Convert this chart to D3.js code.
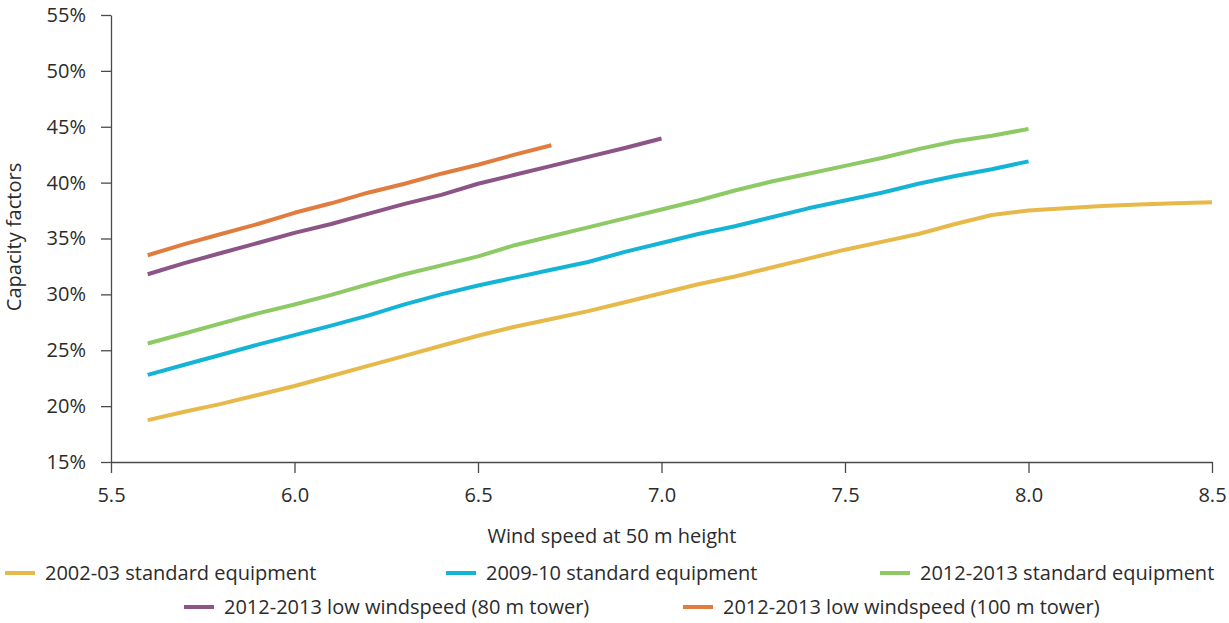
<!DOCTYPE html>
<html>
<head>
<meta charset="utf-8">
<script src="https://cdn.jsdelivr.net/npm/d3@7"></script>
<style>
  body { margin: 0; background: #fff; }
  text { font-family: "Open Sans", Lato, sans-serif; fill: #2b2b2b; }
</style>
</head>
<body>
<div id="chart-area"></div>
<script>
// Wind speed at 50 m height (x values shared by all series)
const windSpeeds = [5.6, 5.7, 5.8, 5.9, 6.0, 6.1, 6.2, 6.3, 6.4, 6.5,
    6.6, 6.7, 6.8, 6.9, 7.0, 7.1, 7.2, 7.3, 7.4, 7.5,
    7.6, 7.7, 7.8, 7.9, 8.0, 8.1, 8.2, 8.3, 8.4, 8.5];

// Capacity factors (%), one value per wind speed, series stop where the line stops
const std2002 = [18.75, 19.5, 20.2, 21.0, 21.8, 22.7, 23.6, 24.5, 25.4, 26.3,
    27.1, 27.8, 28.5, 29.3, 30.1, 30.9, 31.6, 32.4, 33.2, 34.0,
    34.7, 35.4, 36.3, 37.1, 37.5, 37.7, 37.9, 38.05, 38.15, 38.25];
const std2009 = [22.8, 23.7, 24.6, 25.5, 26.35, 27.2, 28.1, 29.1, 30.0, 30.8,
    31.5, 32.2, 32.9, 33.8, 34.6, 35.4, 36.1, 36.9, 37.7, 38.4,
    39.1, 39.9, 40.6, 41.2, 41.9];
const std2012 = [25.6, 26.5, 27.4, 28.3, 29.1, 29.95, 30.9, 31.8, 32.6, 33.4,
    34.4, 35.2, 36.0, 36.8, 37.6, 38.4, 39.3, 40.1, 40.8, 41.5,
    42.2, 43.0, 43.7, 44.2, 44.8];
const low80 = [31.8, 32.8, 33.7, 34.6, 35.5, 36.3, 37.2, 38.1, 38.9, 39.9,
    40.7, 41.5, 42.3, 43.1, 43.95];
const low100 = [33.5, 34.5, 35.4, 36.3, 37.3, 38.15, 39.1, 39.9, 40.8, 41.6,
    42.5, 43.35];

const seriesNames = ['2002-03 standard equipment', '2009-10 standard equipment',
    '2012-2013 standard equipment', '2012-2013 low windspeed (80 m tower)',
    '2012-2013 low windspeed (100 m tower)'];
const seriesValues = [std2002, std2009, std2012, low80, low100];
const seriesColors = ['#e6b94a', '#14b4d6', '#8dc965', '#8c5487', '#e07c3e'];

const xTicks = [5.5, 6.0, 6.5, 7.0, 7.5, 8.0, 8.5];
const yTicks = [15, 20, 25, 30, 35, 40, 45, 50, 55];

// Layout
const W = 1229, H = 623;
const margin = { left: 111, right: 17, top: 15, bottom: 161 };
const width = W - margin.left - margin.right;
const height = H - margin.top - margin.bottom;

const svg = d3.select('#chart-area')
    .append('svg')
    .attr('width', W)
    .attr('height', H);

const g = svg.append('g')
    .attr('transform', 'translate(' + margin.left + ', ' + margin.top + ')');

// Scales
const x = d3.scaleLinear().domain([5.5, 8.5]).range([0, width]);
const y = d3.scaleLinear().domain([15, 55]).range([height, 0]);

// X Axis
const xAxisCall = d3.axisBottom(x)
    .tickValues(xTicks)
    .tickFormat(d3.format('.1f'))
    .tickSize(11)
    .tickSizeOuter(0)
    .tickPadding(15);
g.append('g')
    .attr('class', 'x axis')
    .attr('transform', 'translate(0, ' + height + ')')
    .call(xAxisCall);

// Y Axis
const yAxisCall = d3.axisLeft(y)
    .tickValues(yTicks)
    .tickFormat((d) => d + '%')
    .tickSize(10)
    .tickSizeOuter(0)
    .tickPadding(15);
g.append('g')
    .attr('class', 'y axis')
    .call(yAxisCall);

g.selectAll('.axis path, .axis line')
    .attr('stroke', '#4a4a4a')
    .attr('stroke-width', 1.3);
g.selectAll('.axis text')
    .attr('font-size', '20px')
    .attr('font-family', '"Open Sans", Lato, sans-serif')
    .attr('fill', '#2b2b2b');

// Lines
const line = d3.line()
    .x((d) => x(d[0]))
    .y((d) => y(d[1]));

seriesValues.forEach((vals, i) => {
    const pts = vals.map((v, j) => [windSpeeds[j], v]);
    g.append('path')
        .datum(pts)
        .attr('fill', 'none')
        .attr('stroke', seriesColors[i])
        .attr('stroke-width', 4)
        .attr('stroke-linejoin', 'round')
        .attr('d', line);
});

// X Label
svg.append('text')
    .attr('x', 612)
    .attr('y', 543)
    .attr('font-size', '20px')
    .attr('text-anchor', 'middle')
    .text('Wind speed at 50 m height');

// Y Label
svg.append('text')
    .attr('transform', 'translate(21, 237) rotate(-90)')
    .attr('font-size', '20px')
    .attr('text-anchor', 'middle')
    .text('Capacity factors');

// Legend
const legendPos = [[5, 573], [446, 573], [880, 573], [184, 607], [683, 607]];
seriesNames.forEach((name, i) => {
    const lg = svg.append('g')
        .attr('transform', 'translate(' + legendPos[i][0] + ', ' + legendPos[i][1] + ')');
    lg.append('line')
        .attr('x1', 0).attr('x2', 30)
        .attr('y1', 0).attr('y2', 0)
        .attr('stroke', seriesColors[i])
        .attr('stroke-width', 4);
    lg.append('text')
        .attr('x', 40)
        .attr('y', 0)
        .attr('dy', '0.35em')
        .attr('font-size', '20px')
        .text(name);
});
</script>
</body>
</html>
